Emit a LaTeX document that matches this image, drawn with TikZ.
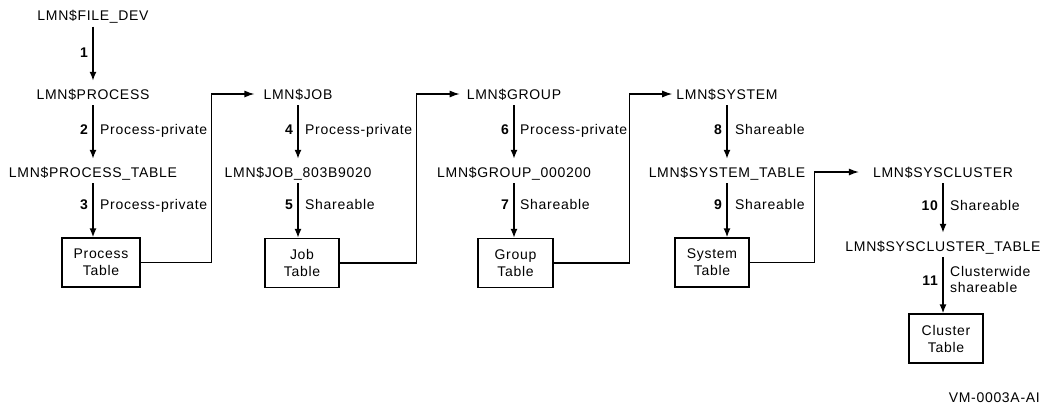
\documentclass[tikz,border=0pt]{standalone}
\usepackage{fontspec}
\setmainfont{Liberation Sans}[LetterSpace=5]
\usetikzlibrary{arrows.meta}
\begin{document}
\begin{tikzpicture}[x=1pt,y=-1pt,
  every node/.style={font=\fontsize{14}{17}\selectfont},
  lbl/.style={inner sep=3pt, text height=10pt, text depth=0pt},
  tbox/.style={draw, line width=1.3pt, minimum width=75pt, minimum height=49pt, align=center, inner sep=0pt},
  num/.style={font=\fontsize{14}{17}\selectfont\bfseries, anchor=east, inner sep=0pt, text height=10pt, text depth=0pt},
  note/.style={anchor=west, inner sep=0pt, text height=10pt, text depth=0pt},
  varr/.style={line width=1.5pt, -{Latex[length=9pt,width=7pt]}, shorten <=3pt},
  conn/.style={line width=1.2pt, -{Latex[length=10pt,width=7pt]}},
]
\useasboundingbox (0,0) rectangle (1043,407);

% column 1
\node[lbl] (fd) at (93,15.5) {LMN\$FILE\_DEV};
\node[lbl] (proc) at (93,94) {LMN\$PROCESS};
\node[lbl] (proct) at (93,172) {LMN\$PROCESS\_TABLE};
\node[tbox, minimum width=78pt] (ptab) at (101,262.5) {Process\\Table};

% column 2
\node[lbl] (job) at (298,94) {LMN\$JOB};
\node[lbl] (jobt) at (298,172) {LMN\$JOB\_803B9020};
\node[tbox, minimum width=74pt] (jtab) at (302,263) {Job\\Table};

% column 3
\node[lbl] (grp) at (514,94) {LMN\$GROUP};
\node[lbl] (grpt) at (514,172) {LMN\$GROUP\_000200};
\node[tbox] (gtab) at (515.5,263) {Group\\Table};

% column 4
\node[lbl] (sys) at (727,94) {LMN\$SYSTEM};
\node[lbl] (syst) at (727,172) {LMN\$SYSTEM\_TABLE};
\node[tbox, minimum width=74pt] (stab) at (712,262.5) {System\\Table};

% column 5
\node[lbl] (sclu) at (943,172) {LMN\$SYSCLUSTER};
\node[lbl] (sclut) at (943,246) {LMN\$SYSCLUSTER\_TABLE};
\node[tbox, minimum width=74pt] (ctab) at (946,338.5) {Cluster\\Table};

% vertical arrows
\draw[varr, shorten >=5pt] (fd.south) -- (proc.north);
\draw[varr, shorten >=5pt] (proc.south) -- (proct.north);
\draw[varr] (proct.south) -- (proct.south |- ptab.north);
\draw[varr, shorten >=5pt] (job.south) -- (jobt.north);
\draw[varr] (jobt.south) -- (jobt.south |- jtab.north);
\draw[varr, shorten >=5pt] (grp.south) -- (grpt.north);
\draw[varr] (grpt.south) -- (grpt.south |- gtab.north);
\draw[varr, shorten >=5pt] (sys.south) -- (syst.north);
\draw[varr] (syst.south) -- (syst.south |- stab.north);
\draw[varr, shorten >=5pt] (sclu.south) -- (sclut.north);
\draw[varr] (sclut.south) -- (sclut.south |- ctab.north);

% labels
\node[num] (n1) at (88,52) {1};
\node[num] (n2) at (88,129) {2};
\node[note] (t2) at (100,129) {Process-private};
\node[num] (n3) at (88,204) {3};
\node[note] (t3) at (100,204) {Process-private};
\node[num] (n4) at (293,129) {4};
\node[note] (t4) at (305,129) {Process-private};
\node[num] (n5) at (293,204) {5};
\node[note] (t5) at (305,204) {Shareable};
\node[num] (n6) at (509,129) {6};
\node[note] (t6) at (520,129) {Process-private};
\node[num] (n7) at (509,204) {7};
\node[note] (t7) at (520,204) {Shareable};
\node[num] (n8) at (722,129) {8};
\node[note] (t8) at (735,129) {Shareable};
\node[num] (n9) at (722,204) {9};
\node[note] (t9) at (735,204) {Shareable};
\node[num] (n10) at (938,205) {10};
\node[note] (t10) at (950,205) {Shareable};
\node[num] (n11) at (938,280) {11};
\node[anchor=west, inner sep=0pt, align=left, font=\fontsize{14}{16}\selectfont] (t11) at (950,279) {Clusterwide\\shareable};

% connectors between columns
\draw[conn, shorten >=6pt] (ptab.east) -- ++(71,0) |- (job.west);
\draw[conn, shorten >=4pt] (jtab.east) -- ++(77,0) |- (grp.west);
\draw[conn, shorten >=1pt] (gtab.east) -- ++(76,0) |- (sys.west);
\draw[conn, shorten >=11pt] (stab.east) -- ++(65,0) |- (sclu.west);

% figure id
\node[anchor=east, inner sep=0pt] (fid) at (1040,398) {VM-0003A-AI};
\end{tikzpicture}
\end{document}
